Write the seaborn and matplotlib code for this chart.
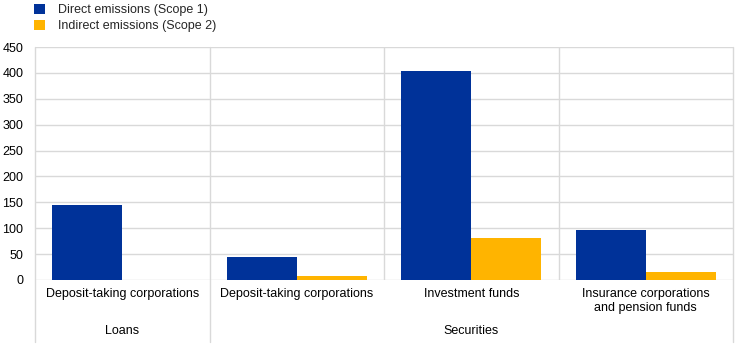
import matplotlib
matplotlib.use("Agg")
import matplotlib.pyplot as plt
import matplotlib.transforms as mtransforms
from matplotlib.lines import Line2D
from matplotlib.patches import Patch
import seaborn as sns
import pandas as pd

# Data
categories = ["Deposit-taking corporations", "Deposit-taking corporations",
              "Investment funds", "Insurance corporations\nand pension funds"]
groups = ["Loans", "Securities"]
group_spans = [(0, 0), (1, 3)]
series = ["Direct emissions (Scope 1)", "Indirect emissions (Scope 2)"]
scope1 = [145, 45, 403, 96]
scope2 = [0, 7, 82, 16]
yticks = [0, 50, 100, 150, 200, 250, 300, 350, 400, 450]

colors = ["#003299", "#FFB400"]
grid_col = "#d9d9d9"

keys = [f"c{i}" for i in range(len(categories))]
df = pd.DataFrame({
    "cat": keys * 2,
    "series": [series[0]] * len(keys) + [series[1]] * len(keys),
    "value": scope1 + scope2,
})

sns.set_theme(style="white")
plt.rcParams["font.family"] = ["Liberation Sans", "DejaVu Sans"]

fig = plt.figure(figsize=(7.44, 3.44), dpi=100)
W, H = 744, 344
L, R, T, B = 35, 733, 47, 280
ax = fig.add_axes([L / W, 1 - B / H, (R - L) / W, (B - T) / H])

sns.barplot(data=df, x="cat", y="value", hue="series", order=keys,
            hue_order=series, palette=colors, width=0.8, saturation=1,
            linewidth=0, ax=ax, legend=False, zorder=3)

ax.set_xlim(-0.5, len(keys) - 0.5)
ax.set_ylim(0, 450)
ax.set_yticks(yticks)
ax.set_yticklabels([str(v) for v in yticks])
ax.set_xticks(range(len(keys)))
ax.set_xticklabels(categories)
ax.set_xlabel("")
ax.set_ylabel("")
ax.tick_params(axis="y", length=0, pad=8.5, labelsize=9, labelcolor="#000000")
ax.tick_params(axis="x", length=0, pad=6, labelsize=9, labelcolor="#000000")
for lbl in ax.get_xticklabels():
    lbl.set_linespacing(1.2)
    lbl.set_verticalalignment("top")

for s in ax.spines.values():
    s.set_visible(False)

ax.yaxis.grid(True, color=grid_col, linewidth=1, zorder=0)
ax.set_axisbelow(True)

# inner separators (within plot area)
for x in [1.5, 2.5]:
    ax.axvline(x, color=grid_col, linewidth=1, zorder=1)

# full-height separators (extend below axis into group-label area)
trans = mtransforms.blended_transform_factory(ax.transData, ax.transAxes)
bottom = -(342 - B) / (B - T)
for x in [-0.5, 0.5, len(keys) - 0.5]:
    ax.add_line(Line2D([x, x], [1, bottom], transform=trans, color=grid_col,
                       linewidth=1, clip_on=False, zorder=1))

# group labels
for g, (a, b) in zip(groups, group_spans):
    ax.text((a + b) / 2, -(331 - B) / (B - T), g, transform=trans,
            ha="center", va="center", fontsize=9, color="#000000")

# legend
handles = [Patch(facecolor=c, edgecolor="none") for c in colors]
fig.legend(handles, series, loc="upper left",
           bbox_to_anchor=(33 / W, 1.0 - 2.5 / H),
           frameon=False, fontsize=9, handlelength=0.85, handleheight=0.85,
           handletextpad=1.05, labelspacing=0.3, borderaxespad=0.0,
           borderpad=0.1)

fig.savefig("out.png", dpi=100)
